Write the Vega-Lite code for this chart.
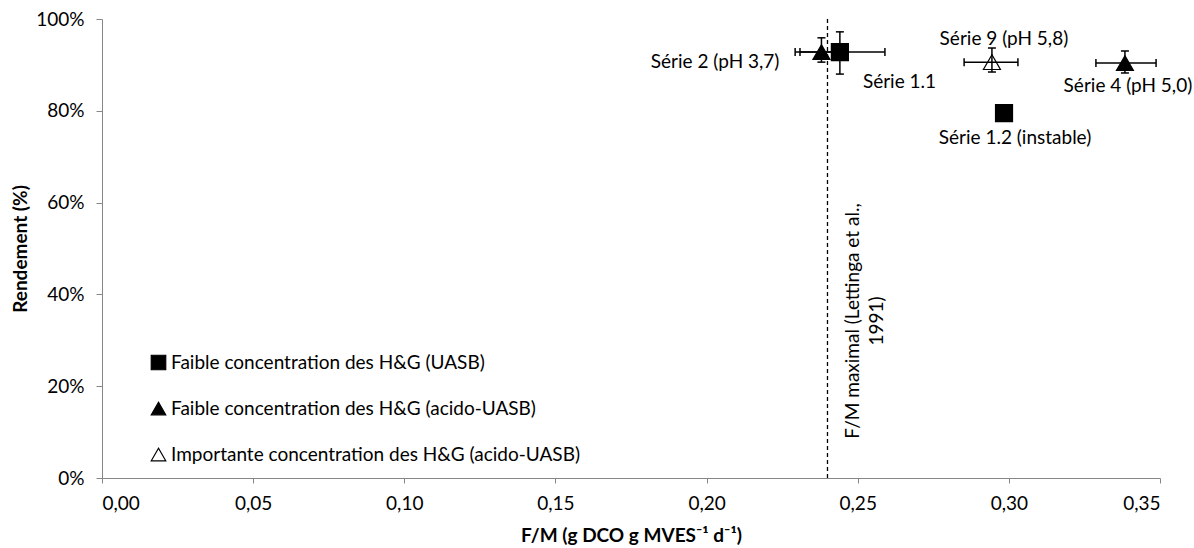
{
  "$schema": "https://vega.github.io/schema/vega-lite/v6.json",
  "width": 1058,
  "height": 459,
  "autosize": {"type": "none"},
  "padding": {"left": 102, "top": 19, "right": 34, "bottom": 70},
  "background": "white",
  "config": {
    "locale": {"number": {"decimal": ",", "thousands": "\u00a0", "grouping": [3], "currency": ["", " €"]}},
    "view": {"stroke": null},
    "font": "Lato",
    "axis": {
      "grid": false,
      "domainColor": "#868686",
      "tickColor": "#868686",
      "labelColor": "#000",
      "labelFont": "Lato",
      "labelFontSize": 19,
      "titleFont": "Lato",
      "titleFontSize": 19,
      "titleFontWeight": "bold",
      "titleColor": "#000"
    },
    "legend": {
      "title": null,
      "orient": "none",
      "legendX": 47,
      "legendY": 334,
      "padding": 0,
      "labelFont": "Lato",
      "labelFontSize": 19,
      "labelColor": "#000",
      "labelOffset": 3,
      "labelLimit": 600,
      "rowPadding": 26,
      "symbolSize": 210,
      "symbolStrokeWidth": 1.2
    }
  },
  "datasets": {
    "points": [
      {"serie": "Série 1.1", "group": "Faible concentration des H&G (UASB)", "x": 0.2441, "y": 0.928, "xlo": 0.2293, "xhi": 0.259, "ylo": 0.88, "yhi": 0.972},
      {"serie": "Série 2 (pH 3,7)", "group": "Faible concentration des H&G (acido-UASB)", "x": 0.238, "y": 0.928, "xlo": 0.2309, "xhi": 0.2451, "ylo": 0.906, "yhi": 0.959},
      {"serie": "Série 9 (pH 5,8)", "group": "Importante  concentration des H&G (acido-UASB)", "x": 0.2944, "y": 0.906, "xlo": 0.2852, "xhi": 0.303, "ylo": 0.8845, "yhi": 0.9368},
      {"serie": "Série 4 (pH 5,0)", "group": "Faible concentration des H&G (acido-UASB)", "x": 0.3384, "y": 0.904, "xlo": 0.3288, "xhi": 0.3487, "ylo": 0.8824, "yhi": 0.9303},
      {"serie": "Série 1.2 (instable)", "group": "Faible concentration des H&G (UASB)", "x": 0.2984, "y": 0.795}
    ],
    "notes": [
      {"note": "F/M maximal  (Lettinga et al.,", "line": 1, "x": 0.24, "y": 0.342},
      {"note": "1991)", "line": 2, "x": 0.24, "y": 0.342}
    ]
  },
  "layer": [
    {
      "data": {"values": [{"x": 0.24}]},
      "mark": {"type": "rule", "color": "black", "strokeWidth": 1.3, "strokeDash": [4, 3]},
      "encoding": {
        "x": {
          "field": "x", "type": "quantitative",
          "scale": {"domain": [0, 0.35], "nice": false, "zero": false},
          "axis": {
            "title": "F/M (g DCO g MVES⁻¹ d⁻¹)",
            "format": ".2f",
            "values": [0, 0.05, 0.1, 0.15, 0.2, 0.25, 0.3, 0.35],
            "tickSize": 5,
            "labelPadding": 11,
            "titlePadding": 13
          }
        }
      }
    },
    {
      "data": {"name": "points"},
      "mark": {"type": "point", "filled": true, "size": 289, "opacity": 1, "strokeWidth": 1.2},
      "encoding": {
        "x": {"field": "x", "type": "quantitative"},
        "y": {
          "field": "y", "type": "quantitative",
          "scale": {"domain": [0, 1], "nice": false},
          "axis": {
            "title": "Rendement (%)",
            "format": ".0%",
            "values": [0, 0.2, 0.4, 0.6, 0.8, 1],
            "tickSize": 6,
            "labelPadding": 12,
            "titlePadding": 5
          }
        },
        "shape": {
          "field": "group", "type": "nominal",
          "scale": {
            "domain": ["Faible concentration des H&G (UASB)", "Faible concentration des H&G (acido-UASB)", "Importante  concentration des H&G (acido-UASB)"],
            "range": ["square", "triangle-up", "triangle-up"]
          },
          "legend": {
            "encode": {
              "symbols": {
                "update": {
                  "shape": {"signal": "datum.value === 'Importante  concentration des H&G (acido-UASB)' ? 'M0,-0.75L1,0.75L-1,0.75' : (datum.value === 'Faible concentration des H&G (UASB)' ? 'square' : 'triangle-up')"}
                }
              }
            }
          }
        },
        "fill": {
          "field": "group", "type": "nominal",
          "scale": {
            "domain": ["Faible concentration des H&G (UASB)", "Faible concentration des H&G (acido-UASB)", "Importante  concentration des H&G (acido-UASB)"],
            "range": ["black", "black", "white"]
          },
          "legend": {
            "encode": {
              "symbols": {
                "update": {
                  "shape": {"signal": "datum.value === 'Importante  concentration des H&G (acido-UASB)' ? 'M0,-0.75L1,0.75L-1,0.75' : (datum.value === 'Faible concentration des H&G (UASB)' ? 'square' : 'triangle-up')"}
                }
              }
            }
          }
        },
        "stroke": {
          "field": "group", "type": "nominal",
          "scale": {
            "domain": ["Faible concentration des H&G (UASB)", "Faible concentration des H&G (acido-UASB)", "Importante  concentration des H&G (acido-UASB)"],
            "range": ["black", "black", "black"]
          },
          "legend": {
            "encode": {
              "symbols": {
                "update": {
                  "shape": {"signal": "datum.value === 'Importante  concentration des H&G (acido-UASB)' ? 'M0,-0.75L1,0.75L-1,0.75' : (datum.value === 'Faible concentration des H&G (UASB)' ? 'square' : 'triangle-up')"}
                }
              }
            }
          }
        }
      }
    },
    {
      "data": {"name": "points"},
      "mark": {"type": "rule", "color": "black", "strokeWidth": 1.5},
      "encoding": {
        "x": {"field": "xlo", "type": "quantitative"},
        "x2": {"field": "xhi"},
        "y": {"field": "y", "type": "quantitative"}
      }
    },
    {
      "data": {"name": "points"},
      "mark": {"type": "rule", "color": "black", "strokeWidth": 1.5},
      "encoding": {
        "x": {"field": "x", "type": "quantitative"},
        "y": {"field": "ylo", "type": "quantitative"},
        "y2": {"field": "yhi"}
      }
    },
    {
      "data": {"name": "points"},
      "mark": {"type": "point", "shape": "M0,-1L0,1", "size": 64, "filled": false, "stroke": "black", "strokeWidth": 1.5, "opacity": 1},
      "encoding": {
        "x": {"field": "xlo", "type": "quantitative"},
        "y": {"field": "y", "type": "quantitative"}
      }
    },
    {
      "data": {"name": "points"},
      "mark": {"type": "point", "shape": "M0,-1L0,1", "size": 64, "filled": false, "stroke": "black", "strokeWidth": 1.5, "opacity": 1},
      "encoding": {
        "x": {"field": "xhi", "type": "quantitative"},
        "y": {"field": "y", "type": "quantitative"}
      }
    },
    {
      "data": {"name": "points"},
      "mark": {"type": "point", "shape": "M-1,0L1,0", "size": 64, "filled": false, "stroke": "black", "strokeWidth": 1.5, "opacity": 1},
      "encoding": {
        "x": {"field": "x", "type": "quantitative"},
        "y": {"field": "ylo", "type": "quantitative"}
      }
    },
    {
      "data": {"name": "points"},
      "mark": {"type": "point", "shape": "M-1,0L1,0", "size": 64, "filled": false, "stroke": "black", "strokeWidth": 1.5, "opacity": 1},
      "encoding": {
        "x": {"field": "x", "type": "quantitative"},
        "y": {"field": "yhi", "type": "quantitative"}
      }
    },
    {
      "data": {"name": "points"},
      "transform": [{"filter": "datum.serie == 'Série 2 (pH 3,7)'"}],
      "mark": {"type": "text", "align": "right", "baseline": "middle", "dx": -42, "dy": 10, "fontSize": 19, "font": "Lato", "color": "#000"},
      "encoding": {"x": {"field": "x", "type": "quantitative"}, "y": {"field": "y", "type": "quantitative"}, "text": {"field": "serie"}}
    },
    {
      "data": {"name": "points"},
      "transform": [{"filter": "datum.serie == 'Série 1.1'"}],
      "mark": {"type": "text", "align": "left", "baseline": "middle", "dx": 23, "dy": 30, "fontSize": 19, "font": "Lato", "color": "#000"},
      "encoding": {"x": {"field": "x", "type": "quantitative"}, "y": {"field": "y", "type": "quantitative"}, "text": {"field": "serie"}}
    },
    {
      "data": {"name": "points"},
      "transform": [{"filter": "datum.serie == 'Série 9 (pH 5,8)'"}],
      "mark": {"type": "text", "align": "center", "baseline": "middle", "dx": 12, "dy": -23, "fontSize": 19, "font": "Lato", "color": "#000"},
      "encoding": {"x": {"field": "x", "type": "quantitative"}, "y": {"field": "y", "type": "quantitative"}, "text": {"field": "serie"}}
    },
    {
      "data": {"name": "points"},
      "transform": [{"filter": "datum.serie == 'Série 4 (pH 5,0)'"}],
      "mark": {"type": "text", "align": "center", "baseline": "middle", "dx": 3, "dy": 23, "fontSize": 19, "font": "Lato", "color": "#000"},
      "encoding": {"x": {"field": "x", "type": "quantitative"}, "y": {"field": "y", "type": "quantitative"}, "text": {"field": "serie"}}
    },
    {
      "data": {"name": "points"},
      "transform": [{"filter": "datum.serie == 'Série 1.2 (instable)'"}],
      "mark": {"type": "text", "align": "center", "baseline": "middle", "dx": 11, "dy": 25, "fontSize": 19, "font": "Lato", "color": "#000"},
      "encoding": {"x": {"field": "x", "type": "quantitative"}, "y": {"field": "y", "type": "quantitative"}, "text": {"field": "serie"}}
    },
    {
      "data": {"name": "notes"},
      "transform": [{"filter": "datum.line == 1"}],
      "mark": {"type": "text", "angle": 270, "align": "center", "baseline": "middle", "dy": 26, "fontSize": 19, "font": "Lato", "color": "#000"},
      "encoding": {"x": {"field": "x", "type": "quantitative"}, "y": {"field": "y", "type": "quantitative"}, "text": {"field": "note"}}
    },
    {
      "data": {"name": "notes"},
      "transform": [{"filter": "datum.line == 2"}],
      "mark": {"type": "text", "angle": 270, "align": "center", "baseline": "middle", "dy": 50, "fontSize": 19, "font": "Lato", "color": "#000"},
      "encoding": {"x": {"field": "x", "type": "quantitative"}, "y": {"field": "y", "type": "quantitative"}, "text": {"field": "note"}}
    }
  ]
}
